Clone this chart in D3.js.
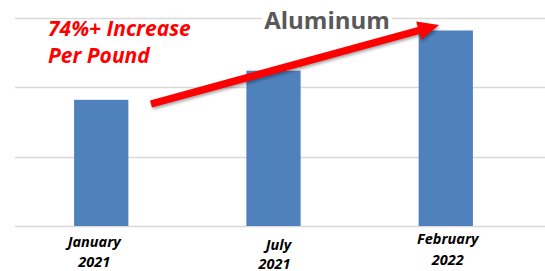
<!DOCTYPE html>
<html><head><meta charset="utf-8">
<script src="https://cdn.jsdelivr.net/npm/d3@7"></script>
<style>body{margin:0;background:#fff}svg{display:block}</style>
</head><body>
<script>
const categories = [["January","2021"],["July","2021"],["February","2022"]];
const values = [0.91, 1.12, 1.41];
const yTicks = [0, 0.5, 1.0, 1.5];
const title = "Aluminum";
const note = ["74%+ Increase","Per Pound"];

const W=545,H=271;
const svg=d3.select("body").append("svg").attr("width",W).attr("height",H);
const x=d3.scaleBand().domain(categories.map(d=>d.join(" "))).range([15,532]).paddingInner(0.685).paddingOuter(0.343);
const y=d3.scaleLinear().domain([0,1.5]).range([226,18]);

svg.append("g").selectAll("line").data(yTicks).join("line")
  .attr("x1",15).attr("x2",W).attr("y1",d=>Math.round(y(d))+0.5).attr("y2",d=>Math.round(y(d))+0.5)
  .attr("stroke","#d9d9d9").attr("stroke-width",1.5);

svg.append("g").selectAll("rect").data(values).join("rect")
  .attr("x",(d,i)=>x(categories[i].join(" ")))
  .attr("width",x.bandwidth())
  .attr("y",d=>y(d)).attr("height",d=>y(0)-y(d))
  .attr("fill","#4f81bd");

const labDx=[[-7,-7],[5,1],[2,2]];
const labY=[[247,267],[250,268.5],[244,265]];
const lab=svg.append("g").attr("font-family","'Open Sans',sans-serif").attr("font-weight","bold").attr("font-style","italic").attr("font-size",14.5).attr("fill","#000").attr("text-anchor","middle");
categories.forEach((c,i)=>{
  const cx=x(c.join(" "))+x.bandwidth()/2;
  lab.append("text").attr("x",cx+labDx[i][0]).attr("y",labY[i][0]).text(c[0]);
  lab.append("text").attr("x",cx+labDx[i][1]).attr("y",labY[i][1]).text(c[1]);
});

const titleBg=svg.append("rect").attr("fill","#fff");
const tt=svg.append("text").attr("x",327).attr("y",29).attr("text-anchor","middle")
  .attr("font-family","'Open Sans',sans-serif").attr("font-weight","bold").attr("font-size",24).attr("fill","#595959").text(title);
const bb=tt.node().getBBox();
titleBg.attr("x",bb.x-2).attr("y",bb.y+4).attr("width",bb.width+4).attr("height",bb.height-8);

const nt=svg.append("g").attr("font-family","'Open Sans',sans-serif").attr("font-weight","bold").attr("font-style","italic").attr("font-size",21).attr("fill","#ff0000");
nt.append("text").attr("x",48).attr("y",36).text(note[0]);
nt.append("text").attr("x",48).attr("y",63).text(note[1]);

// arrow
const x0=151,y0=104,x1=439,y1=25;
const ang=Math.atan2(y1-y0,x1-x0);
const hl=21,hw=9.5,sw=3.7;
const ux=Math.cos(ang),uy=Math.sin(ang),px=-uy,py=ux;
const bx=x1-ux*hl,by=y1-uy*hl;
const pts=[[x0+px*sw,y0+py*sw],[bx+px*sw,by+py*sw],[bx+px*hw,by+py*hw],[x1,y1],[bx-px*hw,by-py*hw],[bx-px*sw,by-py*sw],[x0-px*sw,y0-py*sw]];
svg.append("polygon").attr("points",pts.map(p=>p.join(",")).join(" ")).attr("fill","#ff0000")
  .style("filter","drop-shadow(1px 2px 1.5px rgba(0,0,0,0.35))");
</script>
</body></html>
